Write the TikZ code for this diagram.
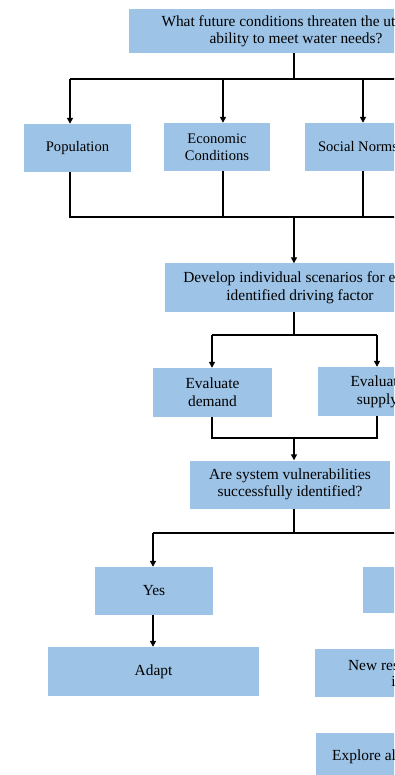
\documentclass[tikz,border=0pt]{standalone}
\usepackage{fontspec}
\setmainfont{Liberation Serif}
\usetikzlibrary{arrows.meta}
\definecolor{boxblue}{RGB}{157,195,230}
\begin{document}
\begin{tikzpicture}[x=1pt,y=-1pt,
  box/.style={fill=boxblue, draw=none, align=center, inner sep=2pt,
    font=\fontsize{15.4}{18}\selectfont, text=black},
  small/.style={font=\fontsize{14.6}{16.5}\selectfont},
  tight/.style={font=\fontsize{15.4}{16.5}\selectfont},
  conn/.style={line width=1.4pt, draw=black},
  arr/.style={conn, -{Triangle[length=6pt,width=6pt]}}]
\useasboundingbox (0,0) rectangle (394,775);
\clip (0,0) rectangle (394,775);
% boxes
\node[box, tight, minimum width=334pt, minimum height=44pt] (q) at (296,31)
  {What future conditions threaten the utility's\\ability to meet water needs?};
\node[box, small, minimum width=107pt, minimum height=48pt] (pop) at (77.5,148) {Population};
\node[box, small, minimum width=106pt, minimum height=48pt] (econ) at (217,147) {Economic\\Conditions};
\node[box, small, minimum width=106pt, minimum height=48pt] (soc) at (358,147) {Social Norms};
\node[box, minimum width=270pt, minimum height=48pt] (dev) at (300,287.5)
  {Develop individual scenarios for each\\identified driving factor};
\node[box, minimum width=119pt, minimum height=49pt] (dem) at (212.5,392.5) {Evaluate\\demand};
\node[box, minimum width=119pt, minimum height=49pt] (sup) at (377.5,391.5) {Evaluate\\supply};
\node[box, tight, minimum width=200pt, minimum height=48pt] (vul) at (290,484.5)
  {Are system vulnerabilities\\successfully identified?};
\node[box, minimum width=118pt, minimum height=48pt] (yes) at (154,591) {Yes};
\node[box, minimum width=211pt, minimum height=49pt] (adapt) at (153.5,671.5) {Adapt};
\node[box, minimum width=118pt, minimum height=46pt] (no) at (422,590) {No};
\node[box, tight, minimum width=212pt, minimum height=48pt] (newr) at (421,673)
  {New research needs are\\identified};
\node[box, minimum width=212pt, minimum height=48pt] (expl) at (422,757)
  {Explore alternative strategies};
% top bus
\coordinate (j1) at (294,79);
\coordinate (a1) at (70,79);
\coordinate (a2) at (223,79);
\coordinate (a3) at (363,79);
\coordinate (r1) at (400,79);
\draw[conn] (j1 |- q.south) -- (j1);
\draw[conn] (a1) -- (r1);
\draw[arr] (a1) -- (a1 |- pop.north);
\draw[arr] (a2) -- (a2 |- econ.north);
\draw[arr] (a3) -- (a3 |- soc.north);
% lower bus
\coordinate (b1) at (70,217);
\coordinate (b2) at (223,217);
\coordinate (b3) at (363,217);
\coordinate (j2) at (294,217);
\coordinate (r2) at (400,217);
\draw[conn] (b1 |- pop.south) -- (b1) -- (r2);
\draw[conn] (b2 |- econ.south) -- (b2);
\draw[conn] (b3 |- soc.south) -- (b3);
\draw[arr] (j2) -- (j2 |- dev.north);
% develop to evaluate
\coordinate (j3) at (294,335);
\coordinate (c1) at (212,335);
\coordinate (c2) at (377,335);
\draw[conn] (j3 |- dev.south) -- (j3);
\draw[conn] (c1) -- (c2);
\draw[arr] (c1) -- (c1 |- dem.north);
\draw[arr] (c2) -- (c2 |- sup.north);
% evaluate to question
\coordinate (d1) at (212,438);
\coordinate (d2) at (377,438);
\coordinate (j4) at (294,438);
\draw[conn] (d1 |- dem.south) -- (d1) -- (d2) -- (d2 |- sup.south);
\draw[arr] (j4) -- (j4 |- vul.north);
% question to yes/no
\coordinate (j5) at (294,533);
\coordinate (e1) at (153,533);
\coordinate (r5) at (400,533);
\draw[conn] (j5 |- vul.south) -- (j5);
\draw[conn] (e1) -- (r5);
\draw[arr] (e1) -- (e1 |- yes.north);
\draw[arr] (e1 |- yes.south) -- (e1 |- adapt.north);
\end{tikzpicture}
\end{document}
